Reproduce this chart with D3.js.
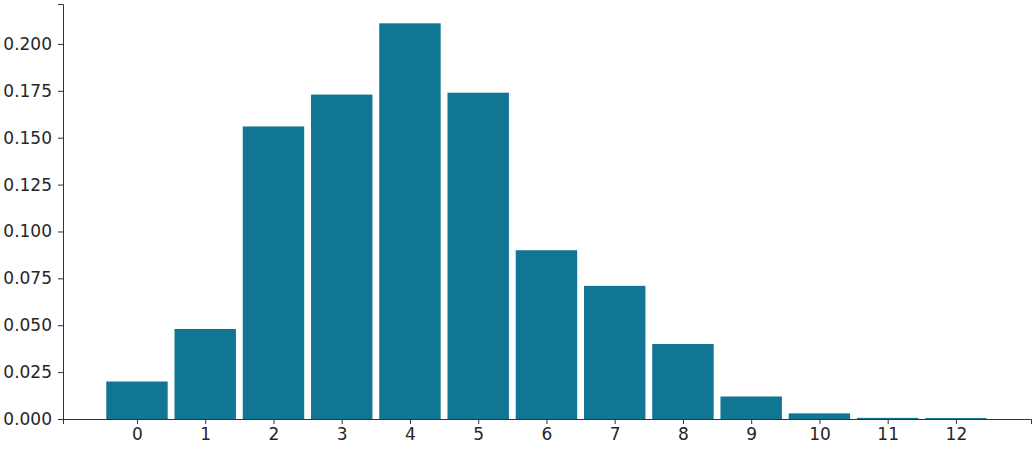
<!DOCTYPE html>
<meta charset="utf-8">
<script src="https://d3js.org/d3.v7.min.js"></script>
<style>
  body { margin: 0; background: #fff; }
  .axis text { font-family: "DejaVu Sans"; font-size: 17px; fill: #262626; }
  .axis path, .axis line { stroke: #333; }
</style>
<div id="chart"></div>
<script>
// categories and probabilities
var categories = [0, 1, 2, 3, 4, 5, 6, 7, 8, 9, 10, 11, 12];
var values = [0.020, 0.048, 0.156, 0.173, 0.211, 0.174, 0.090, 0.071, 0.040, 0.012, 0.003, 0.0006, 0.0005];
var yTicks = [0, 0.025, 0.05, 0.075, 0.1, 0.125, 0.15, 0.175, 0.2];

var margin = {top: 4, right: 4, bottom: 31, left: 63},
    width = 1035 - margin.left - margin.right,
    height = 450 - margin.top - margin.bottom;

var svg = d3.select("#chart")
  .append("svg")
    .attr("width", width + margin.left + margin.right)
    .attr("height", height + margin.top + margin.bottom)
  .append("g")
    .attr("transform", "translate(" + margin.left + "," + margin.top + ")");

// x is linear so the padding on both ends matches the original
var x = d3.scaleLinear()
  .domain([-1.084, 13.1])
  .range([0, width]);

var y = d3.scaleLinear()
  .domain([0, 0.2213])
  .range([height, 0]);

var barW = x(0.9) - x(0);

svg.selectAll("rect.bar")
  .data(values)
  .enter().append("rect")
    .attr("class", "bar")
    .attr("x", function(d, i) { return x(categories[i]) - barW / 2; })
    .attr("y", function(d) { return y(d); })
    .attr("width", barW)
    .attr("height", function(d) { return height - y(d); })
    .attr("fill", "#107694");

svg.append("g")
  .attr("class", "axis")
  .attr("transform", "translate(0," + height + ")")
  .call(d3.axisBottom(x).tickValues(categories).tickFormat(d3.format("d")).tickSizeOuter(0).tickSize(5).tickPadding(4));

svg.append("g")
  .attr("class", "axis")
  .call(d3.axisLeft(y).tickValues(yTicks).tickFormat(d3.format(".3f")).tickSizeOuter(0).tickSize(5).tickPadding(6));
</script>
